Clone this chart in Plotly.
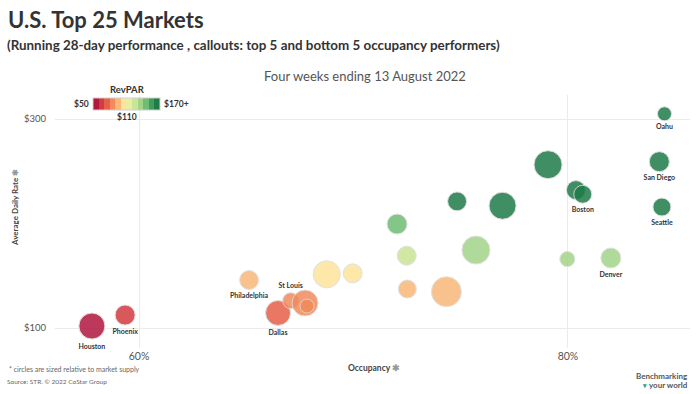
import plotly.graph_objects as go

# ---------------- data ----------------
occupancy = [57.8, 59.35, 65.13, 66.48, 67.07, 67.74, 67.83, 68.75, 69.96, 72.51, 74.33,
             72.48, 72.03, 75.71, 74.83, 76.95, 79.07, 79.97, 80.37, 80.69, 82.0,
             84.26, 84.5, 84.38]
adr = [101.9, 112.4, 145.9, 114.4, 126.1, 123.9, 121.0, 151.4, 152.3, 137.3, 134.7,
       169.2, 199.5, 174.6, 221.2, 217.0, 256.3, 166.0, 232.0, 228.0, 167.0,
       259.2, 305.0, 215.8]
revpar = [59, 67, 95, 76, 85, 84, 82, 104, 106, 97, 98,
          123, 144, 132, 166, 167, 203, 133, 186, 184, 137,
          218, 258, 182]
supply = [113, 67, 60, 104, 43, 113, 33, 122, 60, 54, 150,
          60, 67, 131, 60, 122, 131, 38, 60, 54, 67,
          67, 33, 54]
labels = ["Houston", "Phoenix", "Philadelphia", "Dallas", "St Louis", "", "", "", "", "", "",
          "", "", "", "", "", "", "", "", "Boston", "Denver",
          "San Diego", "Oahu", "Seattle"]

x_ticks = [60, 80]
y_ticks = [100, 300]
revpar_min, revpar_mid, revpar_max = 50, 110, 170

palette = ["#b2173f", "#d23c3f", "#e6604a", "#f28a5a", "#f9b878", "#fde49c",
           "#e9eea2", "#c9e596", "#a2d488", "#6fbd74", "#3f9c5f", "#1f7c49"]

# ---------------- layout helpers ----------------
W, H = 700, 394
PL, PR, PT, PB = 55, 690, 95, 348   # plot area in pixels


def px_x(x):
    return (x - PL) / (PR - PL)


def px_y(y):
    return (PB - y) / (PB - PT)


n = len(palette)
colorscale = []
for i, c in enumerate(palette):
    colorscale.append([i / n, c])
    colorscale.append([(i + 1) / n, c])

textpos = ["top center" if l == "St Louis" else "bottom center" for l in labels]

FONT = "Lato"

fig = go.Figure()
fig.add_trace(go.Scatter(
    x=occupancy, y=adr, mode="markers+text",
    text=labels, textposition=textpos, cliponaxis=False,
    textfont=dict(family=FONT, size=7, color="#333333", weight="bold"),
    marker=dict(
        size=supply, sizemode="area", sizeref=1 / 3,
        color=revpar, cmin=revpar_min, cmax=revpar_max,
        colorscale=colorscale, opacity=0.85,
        line=dict(color="#dcdcdc", width=1),
        colorbar=dict(
            orientation="h", thickness=12, thicknessmode="pixels",
            len=67, lenmode="pixels",
            x=px_x(93), xanchor="left", y=px_y(98), yanchor="top",
            xpad=0, ypad=0, showticklabels=False, ticks="",
            outlinewidth=1, outlinecolor="#cfcfcf",
        ),
    ),
    hoverinfo="skip", showlegend=False,
))

anns = []


def ann(text, x, y, size, color="#333", bold=False, xanchor="left", yanchor="middle", angle=0):
    anns.append(dict(
        text=f"<b>{text}</b>" if bold else text,
        x=px_x(x), y=px_y(y), xref="paper", yref="paper",
        xanchor=xanchor, yanchor=yanchor, showarrow=False, textangle=angle,
        font=dict(family=FONT, size=size, color=color),
    ))


ann("U.S. Top 25 Markets", 6, 20, 22, "#333333", bold=True)
ann("(Running 28-day performance , callouts: top 5 and bottom 5 occupancy performers)",
    5, 45, 13.4, "#333333", bold=True)
ann("Four weeks ending 13 August 2022", 365, 76, 13, "#555555", xanchor="center")
ann("RevPAR", 127, 90, 9.5, "#333333", bold=True, xanchor="center")
ann(f"${revpar_min}", 91, 104, 8.5, "#333333", bold=True, xanchor="right")
ann(f"${revpar_max}+", 162, 104, 8.5, "#333333", bold=True)
ann(f"${revpar_mid}", 127, 117, 8.5, "#333333", bold=True, xanchor="center")
ann("Average Daily Rate <span style='color:#999'>✱</span>", 15, 208, 8, "#444444", bold=True,
    xanchor="center", angle=-90)
ann("Occupancy <span style='color:#999'>✱</span>", 374, 368, 8.5, "#444444", bold=True, xanchor="center")
ann("* circles are sized relative to market supply", 7, 369, 7, "#666666")
ann("Source: STR. © 2022 CoStar Group", 5, 381, 6.5, "#666666")
ann("Benchmarking", 690, 376, 8, "#555555", bold=True, xanchor="right")
ann("your world", 690, 385, 8, "#555555", bold=True, xanchor="right")
ann("▾", 644, 385, 7, "#1aa39a", bold=True, xanchor="center")

fig.update_layout(
    width=W, height=H, autosize=False,
    margin=dict(l=PL, r=W - PR, t=PT, b=H - PB),
    paper_bgcolor="white", plot_bgcolor="white",
    font=dict(family=FONT, color="#555555"),
    annotations=anns,
    xaxis=dict(range=[56.08, 85.69], tickvals=x_ticks,
               ticktext=[f"{v}%" for v in x_ticks],
               showgrid=True, gridcolor="#ebebeb", gridwidth=1, zeroline=False,
               showline=False, ticks="", tickfont=dict(size=10.5, color="#555555")),
    yaxis=dict(range=[80.86, 323], tickvals=y_ticks,
               ticktext=[f"${v}" for v in y_ticks],
               showgrid=True, gridcolor="#ebebeb", gridwidth=1, zeroline=False,
               showline=False, ticks="", tickfont=dict(size=9.5, color="#555555"),
               ticklabelstandoff=8),
)

fig.write_html("out.html", config={"displayModeBar": False},
               post_script="document.body.style.margin='0';document.body.style.overflow='hidden';")
